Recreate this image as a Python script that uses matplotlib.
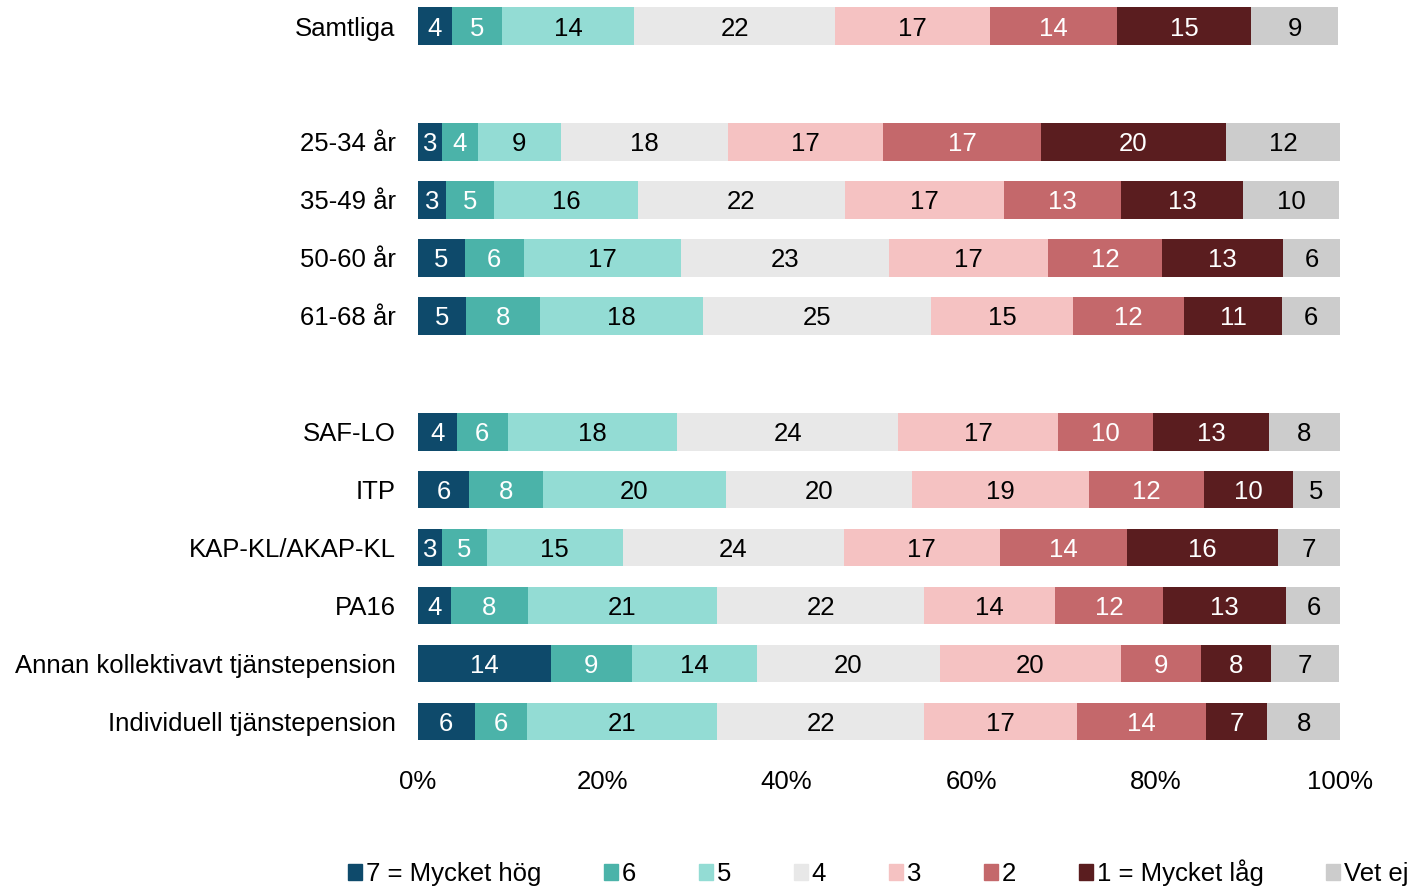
import matplotlib.pyplot as plt
from matplotlib.patches import Patch
import numpy as np

plt.rcParams['font.family'] = ['Liberation Sans', 'DejaVu Sans']

# rader i diagrammet (uppifrån och ned), uppdelade i grupper
kategorier = ['Samtliga',
              '25-34 år', '35-49 år', '50-60 år', '61-68 år',
              'SAF-LO', 'ITP', 'KAP-KL/AKAP-KL', 'PA16',
              'Annan kollektivavt tjänstepension', 'Individuell tjänstepension']
grupper = [1, 4, 6]

# andelar i procent per svarsalternativ
v7 = [3.7, 2.6, 3.1, 5.1, 5.2, 4.2, 5.6, 2.6, 3.6, 14.4, 6.2]
v6 = [5.4, 3.9, 5.2, 6.4, 8.0, 5.6, 8.0, 4.9, 8.3, 8.8, 5.6]
v5 = [14.4, 9.0, 15.6, 17.0, 17.7, 18.3, 19.8, 14.7, 20.6, 13.6, 20.7]
v4 = [21.7, 18.1, 22.4, 22.6, 24.8, 24.0, 20.2, 24.0, 22.4, 19.8, 22.4]
v3 = [16.9, 16.8, 17.3, 17.2, 15.3, 17.3, 19.2, 16.9, 14.2, 19.6, 16.6]
v2 = [13.7, 17.2, 12.7, 12.4, 12.1, 10.3, 12.4, 13.8, 11.7, 8.7, 14.0]
v1 = [14.6, 20.0, 13.2, 13.1, 10.6, 12.6, 9.7, 16.4, 13.3, 7.6, 6.6]
vet_ej = [9.4, 12.4, 10.4, 6.2, 6.3, 7.7, 5.1, 6.7, 6.1, 7.4, 8.0]

serier = [v7, v6, v5, v4, v3, v2, v1, vet_ej]
namn = ['7 = Mycket hög', '6', '5', '4', '3', '2', '1 = Mycket låg', 'Vet ej']
farger = ['#0e4a6b', '#4bb3a9', '#93dcd4', '#e8e8e8',
          '#f5c2c2', '#c4686b', '#5a1d1f', '#cccccc']
textfarg = ['white', 'white', 'black', 'black', 'black', 'white', 'white', 'black']

fs = 18.5

# y-positioner med ett tomt steg mellan grupperna
ypos = []
y = 0
for n in grupper:
    for k in range(n):
        ypos.append(y)
        y += 1
    y += 1
ypos = np.array(ypos)

fig = plt.figure(figsize=(14.21, 8.88), dpi=100)
ax = fig.add_axes([0.294, 0.155, 0.649, 0.845])

vanster = np.zeros(len(kategorier))
for serie, f, tf in zip(serier, farger, textfarg):
    vals = np.array(serie)
    ax.barh(ypos, vals, left=vanster, height=0.65, color=f)
    for yy, l, v in zip(ypos, vanster, vals):
        ax.text(l + v / 2, yy, f"{v:.0f}", ha='center', va='center_baseline',
                color=tf, fontsize=fs)
    vanster += vals

ax.set_xlim(0, 100)
ax.set_ylim(12.5, -0.45)
ax.set_yticks(ypos)
ax.set_yticklabels(kategorier, fontsize=fs)
ax.set_xticks(np.arange(0, 101, 20))
ax.set_xticklabels([f"{t}%" for t in range(0, 101, 20)], fontsize=fs)
ax.tick_params(length=0)
ax.tick_params(axis='x', pad=14)
ax.tick_params(axis='y', pad=16)
for s in ax.spines.values():
    s.set_visible(False)

handtag = [Patch(color=f) for f in farger]
fig.legend(handtag, namn, loc='center', bbox_to_anchor=(0.618, 0.017),
           ncol=8, frameon=False, fontsize=fs, handlelength=0.55,
           handleheight=0.55, handletextpad=0.15, columnspacing=2.44)

fig.savefig('out.png')
